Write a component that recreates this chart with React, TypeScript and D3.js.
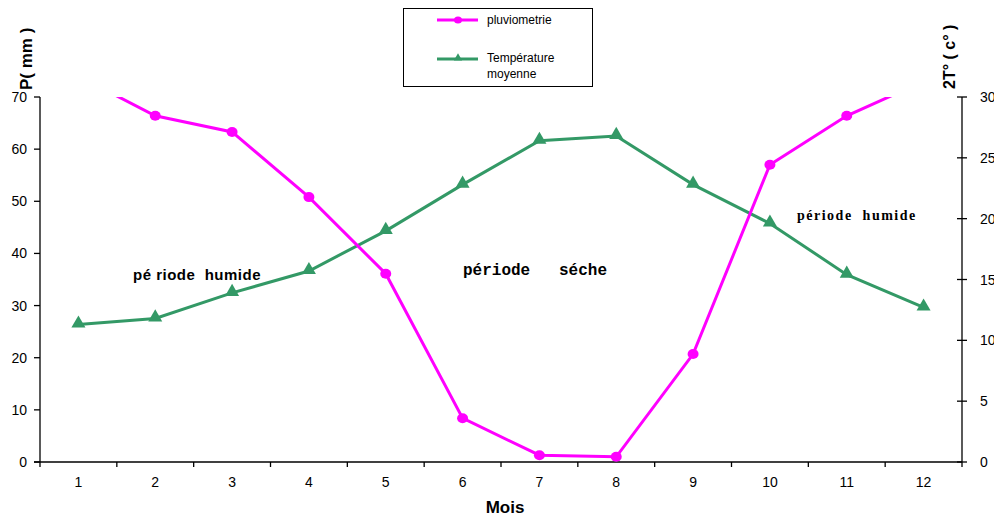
import React, { useEffect, useRef } from 'react';
import * as d3 from 'd3';

const months = ['1', '2', '3', '4', '5', '6', '7', '8', '9', '10', '11', '12'];
const pluvio = [74, 66.4, 63.3, 50.8, 36.1, 8.4, 1.3, 1.0, 20.7, 57.0, 66.4, 73];
const temperature = [11.3, 11.8, 13.9, 15.7, 19.0, 22.8, 26.4, 26.8, 22.8, 19.6, 15.4, 12.7];
const leftTicks = [0, 10, 20, 30, 40, 50, 60, 70];
const rightTicks = [0, 5, 10, 15, 20, 25, 30];

const W = 994;
const H = 518;
const PINK = '#ff00ff';
const GREEN = '#339966';
const SANS = '"Liberation Sans", Arial, sans-serif';

export default function App() {
  const svgRef = useRef<SVGSVGElement>(null);

  useEffect(() => {
    if (!svgRef.current) return;
    const svg = d3.select(svgRef.current);
    svg.selectAll('*').remove();

    const left = 40, right = 962, top = 97, bottom = 462;

    const x = d3.scaleBand<string>().domain(months).range([left, right]);
    const yL = d3.scaleLinear().domain([0, 70]).range([bottom, top]);
    const yR = d3.scaleLinear().domain([0, 30]).range([bottom, top]);
    const cx = (m: string) => (x(m) as number) + x.bandwidth() / 2;

    svg.append('defs').append('clipPath').attr('id', 'plot')
      .append('rect').attr('x', left).attr('y', top).attr('width', right - left).attr('height', bottom - top);

    // axes
    const ax = svg.append('g').attr('stroke', '#000').attr('stroke-width', 1.3);
    ax.append('line').attr('x1', left - 6).attr('x2', right).attr('y1', bottom).attr('y2', bottom);
    ax.append('line').attr('x1', left).attr('x2', left).attr('y1', top).attr('y2', bottom);
    ax.append('line').attr('x1', right).attr('x2', right).attr('y1', top).attr('y2', bottom);

    const bounds = months.map(m => x(m) as number).concat([right]);
    ax.selectAll('.xt').data(bounds).enter().append('line')
      .attr('x1', d => d).attr('x2', d => d).attr('y1', bottom).attr('y2', bottom + 5);
    ax.selectAll('.lt').data(leftTicks).enter().append('line')
      .attr('x1', left - 6).attr('x2', left).attr('y1', d => yL(d)).attr('y2', d => yL(d));
    ax.selectAll('.rt').data(rightTicks).enter().append('line')
      .attr('x1', right - 5).attr('x2', right + 5).attr('y1', d => yR(d)).attr('y2', d => yR(d));

    const txt = svg.append('g').attr('font-family', SANS).attr('font-size', 14).attr('fill', '#000');
    txt.selectAll('.xl').data(months).enter().append('text')
      .attr('x', d => cx(d)).attr('y', 487).attr('text-anchor', 'middle').text(d => d);
    txt.selectAll('.ll').data(leftTicks).enter().append('text')
      .attr('x', 27).attr('y', d => yL(d) + 5).attr('text-anchor', 'end').text(d => d);
    // right tick labels run past the page edge, as in the original figure
    txt.selectAll('.rl').data(rightTicks).enter().append('text')
      .attr('x', 980).attr('y', d => yR(d) + 5).text(d => d);

    // axis titles
    svg.append('text').attr('transform', 'translate(32,90) rotate(-90)')
      .attr('font-family', SANS).attr('font-weight', 'bold').attr('font-size', 17)
      .style('white-space', 'pre').text('P( mm )');
    svg.append('text').attr('transform', 'translate(955,89) rotate(-90)')
      .attr('font-family', SANS).attr('font-weight', 'bold').attr('font-size', 16)
      .style('white-space', 'pre').text('2T° ( c° )');
    svg.append('text').attr('x', 505).attr('y', 513).attr('text-anchor', 'middle')
      .attr('font-family', SANS).attr('font-weight', 'bold').attr('font-size', 17).text('Mois');

    // series
    const plot = svg.append('g').attr('clip-path', 'url(#plot)');
    const linePl = d3.line<number>().x((_, i) => cx(months[i])).y(d => yL(d));
    const lineT = d3.line<number>().x((_, i) => cx(months[i])).y(d => yR(d));

    plot.append('path').datum(temperature).attr('d', lineT).attr('fill', 'none')
      .attr('stroke', GREEN).attr('stroke-width', 3);
    plot.append('path').datum(pluvio).attr('d', linePl).attr('fill', 'none')
      .attr('stroke', PINK).attr('stroke-width', 3);

    const tri = d3.symbol().type(d3.symbolTriangle).size(85);
    plot.selectAll('.tm').data(temperature).enter().append('path')
      .attr('d', tri).attr('fill', GREEN)
      .attr('transform', (d, i) => `translate(${cx(months[i])},${yR(d) - 1})`);
    plot.selectAll('.pm').data(pluvio).enter().append('ellipse')
      .attr('cx', (_, i) => cx(months[i])).attr('cy', d => yL(d))
      .attr('rx', 5.5).attr('ry', 5).attr('fill', PINK);

    // annotations
    svg.append('text').attr('x', 133).attr('y', 280).attr('font-family', SANS)
      .attr('font-weight', 'bold').attr('font-size', 15).attr('letter-spacing', 0.5)
      .style('white-space', 'pre').text('pé riode  humide');
    svg.append('text').attr('x', 463).attr('y', 275).attr('font-family', '"Liberation Mono", monospace')
      .attr('font-weight', 'bold').attr('font-size', 16).style('white-space', 'pre').text('période   séche');
    svg.append('text').attr('x', 797).attr('y', 220).attr('font-family', '"Liberation Serif", serif')
      .attr('font-weight', 'bold').attr('font-size', 14).attr('letter-spacing', 1.5)
      .style('white-space', 'pre').text('période  humide');

    // legend
    const lg = svg.append('g');
    lg.append('rect').attr('x', 403.5).attr('y', 8.5).attr('width', 189).attr('height', 78)
      .attr('fill', '#fff').attr('stroke', '#000').attr('stroke-width', 1);
    lg.append('line').attr('x1', 437).attr('x2', 478).attr('y1', 20).attr('y2', 20)
      .attr('stroke', PINK).attr('stroke-width', 3);
    lg.append('ellipse').attr('cx', 458).attr('cy', 20).attr('rx', 4).attr('ry', 3.5).attr('fill', PINK);
    lg.append('line').attr('x1', 437).attr('x2', 478).attr('y1', 59).attr('y2', 59)
      .attr('stroke', GREEN).attr('stroke-width', 3);
    lg.append('path').attr('d', d3.symbol().type(d3.symbolTriangle).size(30)).attr('fill', GREEN)
      .attr('transform', 'translate(458,58)');
    const lt = lg.append('g').attr('font-family', SANS).attr('font-size', 12);
    lt.append('text').attr('x', 487).attr('y', 24).text('pluviometrie');
    lt.append('text').attr('x', 487).attr('y', 62).text('Température');
    lt.append('text').attr('x', 487).attr('y', 78).text('moyenne');
  }, []);

  return (
    <svg
      ref={svgRef}
      width={W}
      height={H}
      style={{ position: 'absolute', left: 0, top: 0, background: '#fff' }}
    />
  );
}
